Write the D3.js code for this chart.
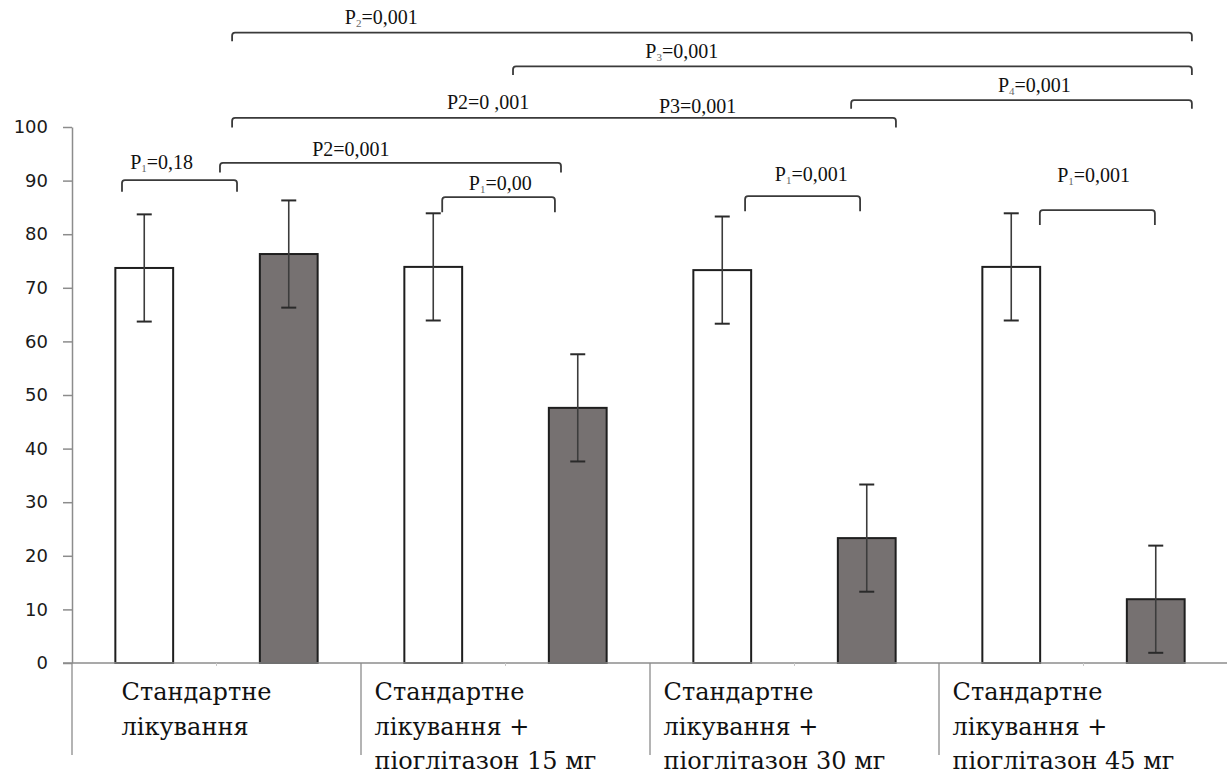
<!DOCTYPE html>
<html>
<head>
<meta charset="utf-8">
<script src="https://cdn.jsdelivr.net/npm/d3@7"></script>
<style>
  html, body { margin: 0; padding: 0; background: #fff; }
  svg { display: block; }
</style>
</head>
<body>
<svg id="chart" width="1227" height="776"></svg>
<script>
// Treatment groups along the x axis (each label broken into its printed lines)
const categories = ["g1", "g2", "g3", "g4"];
const categoryLines = [
  ["Стандартне", "лікування"],
  ["Стандартне", "лікування +", "піоглітазон 15 мг"],
  ["Стандартне", "лікування +", "піоглітазон 30 мг"],
  ["Стандартне", "лікування +", "піоглітазон 45 мг"]
];

// Two measurements per group: open bar and shaded bar, each with ± error
const seriesKeys = ["open", "shaded"];
const openValues = [73.7, 73.9, 73.3, 73.9];
const openErrors = [10, 10, 10, 10];
const shadedValues = [76.3, 47.6, 23.3, 11.9];
const shadedErrors = [10, 10, 10, 10];

const yTicks = [0, 10, 20, 30, 40, 50, 60, 70, 80, 90, 100];

// Significance brackets: ends and label centre in group units (0..4 across the plot),
// bracket level, end drop and label baseline in value units.
const brackets = [
  { p: "P", sub: "2", rest: "=0,001", from: 0.554, to: 3.875, level: 117.6, drop: 1.6, lx: 1.07, ly: 119.3 },
  { p: "P", sub: "3", rest: "=0,001", from: 1.526, to: 3.875, level: 111.3, drop: 1.6, lx: 2.11, ly: 112.9 },
  { p: "P", sub: "4", rest: "=0,001", from: 2.696, to: 3.875, level: 105.0, drop: 1.6, lx: 3.33, ly: 106.6 },
  { p: "P2=0 ,001", sub: "", rest: "", from: 0.554, to: 2.851, level: 101.7, drop: 1.8, lx: 1.44, ly: 103.3 },
  { p: "P3=0,001", sub: "", rest: "", from: null, to: null, level: null, drop: 0, lx: 2.165, ly: 102.7 },
  { p: "P2=0,001", sub: "", rest: "", from: 0.512, to: 1.692, level: 93.3, drop: 1.8, lx: 0.965, ly: 94.5 },
  { p: "P", sub: "1", rest: "=0,18", from: 0.173, to: 0.571, level: 90.1, drop: 2.2, lx: 0.31, ly: 92.2 },
  { p: "P", sub: "1", rest: "=0,00", from: 1.281, to: 1.671, level: 86.9, drop: 2.8, lx: 1.482, ly: 88.3 },
  { p: "P", sub: "1", rest: "=0,001", from: 2.329, to: 2.727, level: 87.1, drop: 2.8, lx: 2.558, ly: 90.0 },
  { p: "P", sub: "1", rest: "=0,001", from: 3.349, to: 3.747, level: 84.5, drop: 2.8, lx: 3.535, ly: 89.7 }
];

const svg = d3.select("#chart");
const plot = { left: 72, right: 1228, top: 127, bottom: 663 };
const serif = "'Liberation Serif', 'Times New Roman', serif";
const cyrSerif = "'DejaVu Serif', serif";

const x0 = d3.scaleBand().domain(categories).range([plot.left, plot.right]).padding(0);
const x1 = d3.scaleBand().domain(seriesKeys).range([0, x0.bandwidth()])
  .paddingInner(0.6).paddingOuter(0.3);
const y = d3.scaleLinear().domain([0, 100]).range([plot.bottom, plot.top]);
const gx = d3.scaleLinear().domain([0, 4]).range([plot.left, plot.right]);

const rows = categories.map((c, i) => ({
  cat: c,
  bars: [
    { key: "open", value: openValues[i], err: openErrors[i] },
    { key: "shaded", value: shadedValues[i], err: shadedErrors[i] }
  ]
}));

const axisColor = "#8c8c8c";

// Y axis
const yAxis = d3.axisLeft(y).tickValues(yTicks).tickSize(9).tickPadding(15).tickSizeOuter(0);
const yg = svg.append("g").attr("transform", `translate(${plot.left},0)`).call(yAxis);
yg.select(".domain").attr("stroke", axisColor).attr("stroke-width", 1.5);
yg.selectAll(".tick line").attr("stroke", axisColor).attr("stroke-width", 1.5);
yg.selectAll(".tick text")
  .attr("fill", "#1a1a1a")
  .style("font-family", "'DejaVu Sans', Verdana, sans-serif")
  .style("font-size", "18px");

// Bars
const groups = svg.append("g").selectAll("g.grp").data(rows).join("g")
  .attr("class", "grp")
  .attr("transform", d => `translate(${x0(d.cat)},0)`);

groups.selectAll("rect").data(d => d.bars).join("rect")
  .attr("x", d => x1(d.key))
  .attr("y", d => y(d.value))
  .attr("width", x1.bandwidth())
  .attr("height", d => y(0) - y(d.value))
  .attr("fill", d => d.key === "open" ? "#ffffff" : "#767171")
  .attr("stroke", "#1e1e1e")
  .attr("stroke-width", 2);

// Error bars
const capHalf = 7.5;
const eb = groups.selectAll("g.err").data(d => d.bars).join("g").attr("class", "err");
eb.append("line")
  .attr("x1", d => x1(d.key) + x1.bandwidth() / 2)
  .attr("x2", d => x1(d.key) + x1.bandwidth() / 2)
  .attr("y1", d => y(d.value + d.err))
  .attr("y2", d => y(d.value - d.err))
  .attr("stroke", "#3c3c3c").attr("stroke-width", 1.6);
eb.selectAll("line.cap").data(d => [
  { key: d.key, v: d.value + d.err }, { key: d.key, v: d.value - d.err }
]).join("line").attr("class", "cap")
  .attr("x1", d => x1(d.key) + x1.bandwidth() / 2 - capHalf)
  .attr("x2", d => x1(d.key) + x1.bandwidth() / 2 + capHalf)
  .attr("y1", d => y(d.v)).attr("y2", d => y(d.v))
  .attr("stroke", "#2a2a2a").attr("stroke-width", 2);

// X axis baseline and category separators
svg.append("line")
  .attr("x1", plot.left - 9).attr("x2", plot.right)
  .attr("y1", y(0)).attr("y2", y(0))
  .attr("stroke", axisColor).attr("stroke-width", 1.5);
const sepBottom = 755;
svg.append("g").selectAll("line").data(categories).join("line")
  .attr("x1", d => x0(d)).attr("x2", d => x0(d))
  .attr("y1", y(0)).attr("y2", sepBottom)
  .attr("stroke", axisColor).attr("stroke-width", 1.3);
svg.append("g").selectAll("line").data(categories).join("line")
  .attr("x1", d => x0(d) + x0.bandwidth() / 2).attr("x2", d => x0(d) + x0.bandwidth() / 2)
  .attr("y1", y(0)).attr("y2", y(0) + 3)
  .attr("stroke", "#c8c8c8").attr("stroke-width", 1);

// Category labels: left-aligned block, centred a little left of the group centre
const lineBaselines = [700, 735, 769];
categories.forEach((c, i) => {
  const g = svg.append("g");
  const texts = categoryLines[i].map((t, j) =>
    g.append("text")
      .attr("y", lineBaselines[j])
      .attr("fill", "#111")
      .style("font-family", cyrSerif)
      .style("font-size", "24px")
      .text(t));
  const w = d3.max(texts, t => t.node().getComputedTextLength());
  const left = x0(c) + x0.bandwidth() / 2 - 20 - w / 2;
  texts.forEach(t => t.attr("x", left));
});

// Significance brackets
const bcol = "#3a3a3a";
const r = 3;
const bg = svg.append("g");
brackets.filter(b => b.from !== null).forEach(b => {
  const xa = gx(b.from), xb = gx(b.to);
  const yl = y(b.level), yd = y(b.level - b.drop);
  const path = `M${xa},${yd} L${xa},${yl + r} Q${xa},${yl} ${xa + r},${yl} ` +
               `L${xb - r},${yl} Q${xb},${yl} ${xb},${yl + r} L${xb},${yd}`;
  bg.append("path").attr("d", path).attr("fill", "none")
    .attr("stroke", bcol).attr("stroke-width", 1.8);
});
brackets.forEach(b => {
  const t = bg.append("text")
    .attr("x", gx(b.lx)).attr("y", y(b.ly))
    .attr("text-anchor", "middle")
    .attr("fill", "#111")
    .style("font-family", serif)
    .style("font-size", "20px");
  t.append("tspan").text(b.p);
  if (b.sub) {
    t.append("tspan").attr("dy", 3).style("font-size", "11px").attr("fill", "#666").text(b.sub);
    t.append("tspan").attr("dy", -3).text(b.rest);
  }
});
</script>
</body>
</html>
